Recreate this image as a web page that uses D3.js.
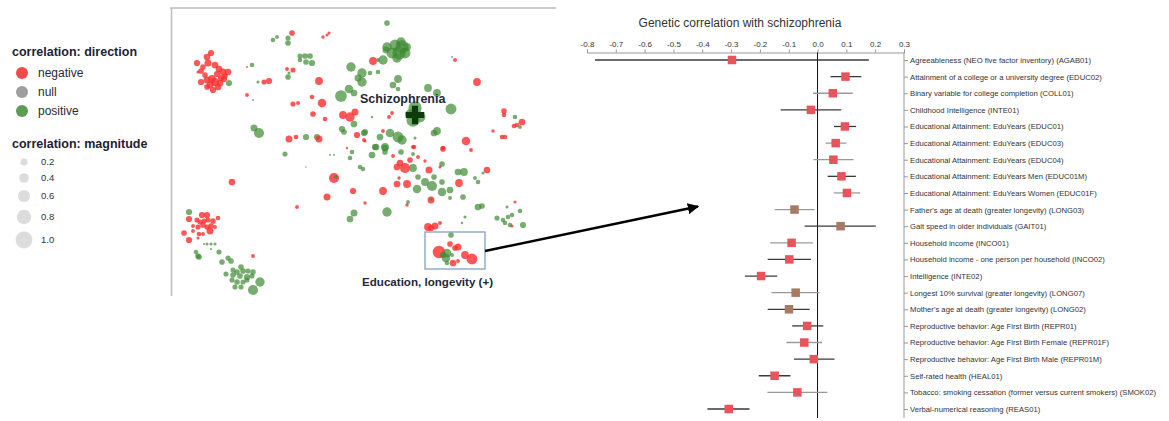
<!DOCTYPE html>
<html><head><meta charset="utf-8">
<script src="https://cdn.jsdelivr.net/npm/d3@7"></script>
<style>
body{margin:0;background:#fff;}
svg{display:block;font-family:"Liberation Sans",Arial,Helvetica,sans-serif;}
</style></head>
<body>
<svg id="c" width="1169" height="421"></svg>
<script>
// ---------- DATA ----------
const directionLabels = ["negative","null","positive"];
const magnitudeLabels = ["0.2","0.4","0.6","0.8","1.0"];
const magnitudeValues = [0.2,0.4,0.6,0.8,1.0];

// scatter (t-SNE style) points: [x, y, magnitude, direction]
const points = [
[211,53,.4,'n'],[207,57,.43,'n'],[197,63,.4,'n'],[208,63,.45,'n'],[215,65,.43,'n'],[203,67,.36,'n'],[201,71,.36,'n'],[219,69,.43,'n'],[223,72,.45,'n'],[228,72,.43,'n'],[217,74,.4,'n'],[212,79,.5,'n'],[207,80,.45,'n'],[201,82,.4,'n'],[215,82,.5,'n'],[220,83,.43,'n'],[210,85,.45,'n'],[218,87,.43,'n'],[213,90,.4,'n'],[207,87,.36,'n'],[224,79,.4,'n'],[229,83,.4,'p'],[198,72,.2,'n'],[225,76,.36,'n'],[205,75,.36,'n'],[221,78,.4,'n'],
[273,40,.3,'p'],[277,37,.25,'p'],[288,38,.33,'p'],[288,43,.36,'p'],[292,33,.36,'n'],[323,37,.22,'n'],[327,35,.2,'n'],[329,33,.2,'n'],
[300,56,.33,'p'],[305,56,.36,'p'],[310,56,.36,'p'],[300,60,.3,'p'],[306,62,.36,'p'],[312,63,.4,'p'],
[252,65,.3,'p'],[247,67,.12,'n'],[287,69,.25,'n'],[293,70,.33,'n'],[288,77,.36,'p'],[289,73,.2,'p'],
[269,81,.4,'n'],[264,82,.33,'n'],[258,82,.2,'p'],[319,81,.5,'n'],[247,95,.25,'n'],[253,100,.12,'p'],
[322,103,.55,'n'],[312,97,.3,'n'],[293,104,.33,'n'],[298,103,.25,'n'],[313,114,.36,'n'],[325,119,.3,'n'],
[343,115,.5,'n'],[350,117,.6,'n'],[355,112,.45,'n'],[354,124,.43,'p'],
[341,96,.75,'p'],[349,89,.55,'p'],[354,93,.43,'p'],[351,67,.6,'p'],[362,73,.6,'p'],[362,82,.6,'p'],[358,78,.45,'p'],
[254,128,.45,'p'],[259,133,.65,'p'],[289,139,.45,'n'],[296,137,.3,'n'],[306,137,.4,'p'],[317,137,.4,'p'],[319,139,.45,'n'],
[342,129,.4,'p'],[344,132,.36,'p'],[357,135,.4,'n'],[364,133,.4,'p'],[365,141,.2,'n'],
[387,23,.36,'p'],[387,47,.6,'p'],[395,45,.7,'p'],[402,47,.85,'p'],[399,53,.85,'p'],[405,53,.7,'p'],[392,53,.7,'p'],[386,50,.45,'p'],[397,58,.6,'p'],[383,60,.6,'p'],[401,42,.6,'p'],[407,47,.5,'p'],
[373,61,.5,'n'],[378,60,.25,'p'],[455,60,.25,'n'],[452,57,.12,'p'],[477,82,.5,'n'],[370,73,.3,'p'],[378,72,.3,'p'],
[398,79,.5,'p'],[393,85,.43,'p'],[398,89,.3,'p'],[428,88,.5,'p'],[437,93,.5,'p'],
[415,108,.85,'p'],[413,120,.85,'p'],[420,117,.7,'p'],[410,114,.6,'p'],[451,109,.7,'p'],
[392,113,.25,'n'],[389,117,.25,'n'],[372,117,.15,'p'],
[504,111,.36,'n'],[504,115,.3,'n'],[515,117,.3,'p'],[522,122,.43,'n'],[517,125,.3,'n'],[520,127,.25,'p'],[514,126,.3,'n'],
[493,131,.22,'n'],[502,137,.3,'n'],[505,137,.3,'n'],[437,131,.5,'p'],[434,133,.43,'p'],
[390,133,.55,'p'],[398,137,.7,'p'],[402,140,.6,'p'],[380,137,.43,'p'],[376,147,.43,'p'],[385,147,.5,'p'],
[466,141,.55,'n'],[443,148,.3,'n'],[414,147,.3,'n'],[383,131,.25,'n'],[365,132,.4,'p'],[364,140,.25,'n'],[415,138,.2,'p'],
[285,154,.33,'p'],[330,155,.12,'p'],[334,155,.12,'p'],[347,148,.15,'n'],[352,152,.3,'p'],[350,158,.3,'p'],[360,167,.3,'p'],[363,169,.3,'p'],[306,167,.1,'p'],
[334,178,.65,'n'],[336,177,.25,'p'],[232,182,.43,'n'],[353,191,.4,'n'],[327,197,.45,'n'],[297,207,.25,'n'],[365,203,.22,'n'],
[354,213,.45,'p'],[350,219,.43,'p'],
[189,212,.4,'p'],[202,215,.4,'n'],[207,215,.4,'n'],[218,218,.3,'n'],[189,219,.4,'n'],[197,220,.33,'n'],[200,222,.33,'n'],[204,221,.33,'n'],[208,220,.33,'n'],[213,221,.36,'n'],[193,226,.25,'n'],[198,227,.33,'n'],[203,225,.36,'n'],[207,227,.33,'n'],[211,226,.36,'n'],[215,227,.25,'n'],[184,233,.36,'n'],[193,231,.25,'n'],[199,234,.3,'n'],[203,234,.25,'n'],[210,231,.45,'n'],[198,238,.2,'n'],[189,240,.4,'n'],
[204,244,.14,'p'],[207,244,.2,'p'],[211,244,.2,'p'],[215,244,.2,'p'],[211,249,.14,'p'],
[219,252,.33,'p'],[196,252,.3,'p'],[198,256,.36,'p'],[199,257,.36,'p'],[253,256,.25,'n'],
[222,262,.36,'p'],[228,258,.33,'p'],[231,261,.36,'p'],
[241,267,.36,'p'],[233,270,.33,'p'],[237,272,.36,'p'],[243,271,.36,'p'],[248,271,.33,'p'],[253,272,.36,'p'],[226,274,.33,'p'],[233,275,.36,'p'],[240,276,.36,'p'],[247,277,.4,'p'],[252,276,.33,'p'],[232,280,.33,'p'],[237,282,.36,'p'],[243,282,.33,'p'],[247,280,.33,'p'],[235,287,.33,'p'],[241,287,.33,'p'],[260,282,.6,'p'],[253,290,.65,'p'],
[375,147,.4,'p'],[385,148,.43,'p'],[372,155,.43,'p'],[385,152,.36,'p'],[413,147,.25,'n'],[443,149,.36,'n'],[471,150,.25,'n'],
[401,152,.36,'p'],[413,154,.25,'p'],[418,157,.25,'n'],[425,161,.22,'n'],[393,156,.25,'n'],
[400,163,.43,'n'],[405,168,.65,'n'],[397,167,.43,'n'],[410,160,.36,'n'],[413,168,.5,'p'],
[429,170,.45,'n'],[442,164,.36,'p'],[440,167,.2,'n'],
[418,177,.36,'p'],[425,182,.5,'p'],[432,186,.65,'p'],[442,192,.55,'p'],[450,190,.43,'p'],[417,189,.55,'p'],[434,177,.36,'p'],[442,182,.36,'p'],
[407,184,.5,'n'],[397,184,.43,'n'],[399,178,.22,'n'],[383,191,.5,'n'],
[458,172,.43,'p'],[464,172,.5,'p'],[459,183,.5,'n'],[487,170,.43,'n'],
[475,178,.25,'p'],[478,182,.3,'p'],[483,173,.2,'p'],
[463,197,.36,'p'],[450,198,.25,'p'],[431,200,.45,'n'],[431,199,.2,'p'],[407,205,.22,'n'],[408,202,.25,'p'],[387,212,.6,'p'],
[478,207,.43,'p'],[482,206,.36,'p'],[465,217,.2,'p'],[462,223,.15,'p'],
[497,218,.33,'p'],[503,220,.3,'p'],[508,217,.3,'p'],[512,215,.3,'p'],[505,223,.3,'p'],[510,225,.3,'p'],[523,225,.4,'p'],[520,211,.3,'p'],[507,207,.2,'p'],[515,202,.2,'n'],[512,226,.2,'n'],
[428,227,.5,'n'],[435,226,.45,'n'],[440,223,.25,'n'],[431,228,.4,'n'],
[451,235,.36,'p'],[450,244,.36,'n'],[458,247,.45,'n'],[455,248,.36,'n'],[439,252,.8,'n'],[447,253,.55,'p'],[446,258,.55,'p'],[452,255,.25,'p'],[465,255,.5,'n'],[472,259,.7,'n'],[453,263,.43,'n'],[458,261,.25,'n'],[447,263,.3,'p'],[443,255,.4,'p']
];
const schizoPoint = [415,115];
const clusterBox = [[425,232],[485,269]];

// forest plot
const traits = [
"Agreeableness (NEO five factor inventory) (AGAB01)",
"Attainment of a college or a university degree (EDUC02)",
"Binary variable for college completion (COLL01)",
"Childhood Intelligence (INTE01)",
"Educational Attainment: EduYears (EDUC01)",
"Educational Attainment: EduYears (EDUC03)",
"Educational Attainment: EduYears (EDUC04)",
"Educational Attainment: EduYears Men (EDUC01M)",
"Educational Attainment: EduYears Women (EDUC01F)",
"Father's age at death (greater longevity) (LONG03)",
"Gait speed in older individuals (GAIT01)",
"Household income (INCO01)",
"Household income - one person per household (INCO02)",
"Intelligence (INTE02)",
"Longest 10% survival (greater longevity) (LONG07)",
"Mother's age at death (greater longevity) (LONG02)",
"Reproductive behavior: Age First Birth (REPR01)",
"Reproductive behavior: Age First Birth Female (REPR01F)",
"Reproductive behavior: Age First Birth Male (REPR01M)",
"Self-rated health (HEAL01)",
"Tobacco: smoking cessation (former versus current smokers) (SMOK02)",
"Verbal-numerical reasoning (REAS01)"
];
const rg    = [-0.297,0.097,0.053,-0.023,0.095,0.063,0.055,0.083,0.102,-0.080,0.080,-0.090,-0.098,-0.196,-0.076,-0.099,-0.036,-0.046,-0.013,-0.149,-0.070,-0.308];
const ciLow = [-0.772,0.045,-0.016,-0.128,0.057,0.028,-0.014,0.035,0.056,-0.149,-0.045,-0.164,-0.173,-0.252,-0.160,-0.173,-0.088,-0.108,-0.082,-0.204,-0.174,-0.382];
const ciHigh= [0.178,0.152,0.122,0.082,0.134,0.100,0.125,0.133,0.148,-0.010,0.202,-0.016,-0.023,-0.140,0.007,-0.027,0.020,0.016,0.059,-0.094,0.034,-0.236];
const traitGroup = ["a","a","a","a","a","a","a","a","a","b","b","a","a","a","b","b","a","a","a","a","a","a"];
const ciStrong = [1,1,0,1,1,0,0,1,0,0,1,0,1,1,0,1,1,0,1,1,0,1];
const rgTicks = [-0.8,-0.7,-0.6,-0.5,-0.4,-0.3,-0.2,-0.1,0.0,0.1,0.2,0.3];
const rgTickLabels = ["-0.8","-0.7","-0.6","-0.5","-0.4","-0.3","-0.2","-0.1","0.0","0.1","0.2","0.3"];

// ---------- DRAW ----------
const svg = d3.select("#c");
const dirColor = {n:"#ff2d2d", z:"#9a9a9a", p:"#3d8a32"};

// legend
const lg = svg.append("g");
lg.append("text").attr("x",12).attr("y",56).attr("font-size",12.5).attr("font-weight","bold").attr("fill","#1e2233").text("correlation: direction");
const legDirColors = ["#f24a4a","#9e9e9e","#5b9d52"];
const ly = d3.scalePoint().domain(directionLabels).range([73,111]);
directionLabels.forEach((d,i)=>{
  lg.append("circle").attr("cx",22).attr("cy",ly(d)).attr("r",6).attr("fill",legDirColors[i]);
  lg.append("text").attr("x",38).attr("y",ly(d)).attr("dy","0.35em").attr("font-size",12).attr("fill","#2a2a35").text(d);
});
lg.append("text").attr("x",12).attr("y",148).attr("font-size",12.5).attr("font-weight","bold").attr("fill","#1e2233").text("correlation: magnitude");
const lmy = d3.scaleLinear().domain([0.2,0.4,0.6,0.8,1.0]).range([162,178,196,217,240]);
const lmr = d3.scaleLinear().domain([0.2,1.0]).range([3.6,8.4]);
magnitudeValues.forEach((m,i)=>{
  lg.append("circle").attr("cx",24).attr("cy",lmy(m)).attr("r",lmr(m)).attr("fill","#dcdcdc");
  lg.append("text").attr("x",41).attr("y",lmy(m)).attr("dy","0.35em").attr("font-size",9.5).attr("fill","#333").text(magnitudeLabels[i]);
});

// scatter
const sx = d3.scaleLinear().domain([170,556]).range([170,556]);
const sy = d3.scaleLinear().domain([8,296]).range([8,296]);
const sr = d3.scaleLinear().domain([0,1]).range([0,7.8]);
const sg = svg.append("g");
sg.append("path").attr("d",`M${sx(170)},${sy(8)}H${sx(556)}M${sx(171.5)},${sy(8)}V${sy(296)}`)
  .attr("stroke","#bdbdbd").attr("stroke-width",1.5).attr("fill","none");
sg.selectAll("circle.pt").data(points).join("circle").attr("class","pt")
  .attr("cx",d=>sx(d[0])).attr("cy",d=>sy(d[1])).attr("r",d=>sr(d[2]))
  .attr("fill",d=>dirColor[d[3]]).attr("fill-opacity",d=>d[3]==='n'?0.8:0.7);
sg.append("path").attr("d",d3.symbol(d3.symbolCross,190)())
  .attr("transform",`translate(${sx(schizoPoint[0])},${sy(schizoPoint[1])})`).attr("fill","#0d3a0d");
sg.append("text").attr("x",sx(360)).attr("y",sy(103)).attr("font-size",12.5).attr("font-weight","bold").attr("fill","#23283a").text("Schizophrenia");
sg.append("rect").attr("x",sx(clusterBox[0][0])).attr("y",sy(clusterBox[0][1]))
  .attr("width",sx(clusterBox[1][0])-sx(clusterBox[0][0])).attr("height",sy(clusterBox[1][1])-sy(clusterBox[0][1]))
  .attr("fill","none").attr("stroke","#7b98b8").attr("stroke-width",1.2);
sg.append("text").attr("x",sx(362)).attr("y",sy(286)).attr("font-size",11.6).attr("font-weight","bold").attr("fill","#23283a").text("Education, longevity (+)");

// forest
const xF = d3.scaleLinear().domain([-0.8,0.3]).range([587,904]);
const yF = d3.scalePoint().domain(traits).range([60,409]);
const fg = svg.append("g");
fg.append("text").attr("x",740).attr("y",27).attr("text-anchor","middle").attr("font-size",12).attr("fill","#333").text("Genetic correlation with schizophrenia");
const ax = fg.append("g").attr("transform","translate(0,52.5)")
  .call(d3.axisTop(xF).tickValues(rgTicks).tickFormat((d,i)=>rgTickLabels[i]).tickSize(3).tickSizeOuter(3).tickPadding(3));
ax.selectAll("path,line").attr("stroke","#999");
ax.selectAll("text").attr("font-size",8).attr("fill","#333").attr("font-family","Liberation Sans,Arial,sans-serif");
// right axis with trait labels
const ay = fg.append("g").attr("transform",`translate(${xF(0.3)},0)`)
  .call(d3.axisRight(yF).tickSize(4).tickSizeOuter(0).tickPadding(2));
ay.select(".domain").remove();
ay.selectAll("line").attr("stroke","#999");
ay.selectAll("text").attr("font-size",7.7).attr("fill","#333").attr("font-family","Liberation Sans,Arial,sans-serif");
fg.append("line").attr("x1",xF(0.3)).attr("x2",xF(0.3)).attr("y1",52.5).attr("y2",418).attr("stroke","#999");
// zero line
fg.append("line").attr("x1",xF(0)).attr("x2",xF(0)).attr("y1",52.5).attr("y2",418).attr("stroke","#111").attr("stroke-width",1);
// CIs
fg.selectAll("line.ci").data(traits).join("line").attr("class","ci")
  .attr("x1",(d,i)=>xF(ciLow[i])).attr("x2",(d,i)=>xF(ciHigh[i]))
  .attr("y1",d=>yF(d)).attr("y2",d=>yF(d))
  .attr("stroke",(d,i)=>ciStrong[i]?"#3a3a3a":"#9a9a9a").attr("stroke-width",1.3);
const sq = 8.5;
fg.selectAll("rect.est").data(traits).join("rect").attr("class","est")
  .attr("x",(d,i)=>xF(rg[i])-sq/2).attr("y",d=>yF(d)-sq/2).attr("width",sq).attr("height",sq)
  .attr("fill",(d,i)=>traitGroup[i]==="b"?"#a77a63":"#e8545c");

// arrow from box to forest plot
svg.append("defs").append("marker").attr("id","ah").attr("viewBox","0 0 10 10").attr("refX",9).attr("refY",5)
  .attr("markerWidth",4.5).attr("markerHeight",4.5).attr("orient","auto")
  .append("path").attr("d","M0,0L10,5L0,10z").attr("fill","#000");
svg.append("line").attr("x1",sx(clusterBox[1][0])).attr("y1",sy(251)).attr("x2",xF(-0.415)).attr("y2",yF(traits[9])-3)
  .attr("stroke","#000").attr("stroke-width",2.5).attr("marker-end","url(#ah)");
</script>
</body></html>
